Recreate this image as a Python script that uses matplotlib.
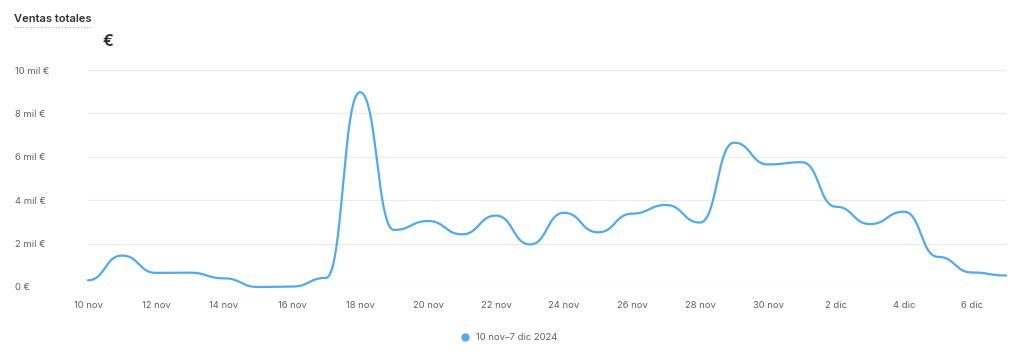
import matplotlib.pyplot as plt
import numpy as np

plt.rcParams['font.family'] = ['Inter', 'DejaVu Sans']

# ventas diarias en miles de euros, 10 nov -> 7 dic 2024
dias = ["10 nov", "11 nov", "12 nov", "13 nov", "14 nov", "15 nov", "16 nov",
        "17 nov", "18 nov", "19 nov", "20 nov", "21 nov", "22 nov", "23 nov",
        "24 nov", "25 nov", "26 nov", "27 nov", "28 nov", "29 nov", "30 nov",
        "1 dic", "2 dic", "3 dic", "4 dic", "5 dic", "6 dic", "7 dic"]
ventas = [0.31, 1.45, 0.65, 0.66, 0.40, 0.0, 0.02,
          0.42, 8.98, 2.63, 3.04, 2.43, 3.29, 1.96,
          3.42, 2.52, 3.38, 3.78, 2.97, 6.65, 5.65,
          5.75, 3.70, 2.90, 3.47, 1.39, 0.67, 0.53]
yticks = [0, 2, 4, 6, 8, 10]
ytick_labels = ["0 €", "2 mil €", "4 mil €", "6 mil €", "8 mil €", "10 mil €"]
leyenda = "10 nov–7 dic 2024"

azul = "#52aaea"
gris = "#616161"

def bump(y, n=40):
    # curva tipo d3.curveBumpX: tangente horizontal en cada punto
    u = np.linspace(0, 1, n, endpoint=False)
    xs, ys = [], []
    for i in range(len(y) - 1):
        # bezier con controles (i+0.5, y0) y (i+0.5, y1)
        bx = (1 - u)**3 * i + 3 * (1 - u)**2 * u * (i + 0.5) + 3 * (1 - u) * u**2 * (i + 0.5) + u**3 * (i + 1)
        by = (1 - u)**3 * y[i] + 3 * (1 - u)**2 * u * y[i] + 3 * (1 - u) * u**2 * y[i + 1] + u**3 * y[i + 1]
        xs += list(bx)
        ys += list(by)
    xs.append(len(y) - 1)
    ys.append(y[-1])
    return np.array(xs), np.array(ys)

fig = plt.figure(figsize=(10.24, 3.6), dpi=100)
ax = fig.add_axes([88 / 1024, 1 - 287 / 360, (1006 - 88) / 1024, (287 - 70) / 360])

x = np.arange(len(ventas))
cx, cy = bump(ventas)
ax.plot(cx, cy, color=azul, lw=1.6, solid_capstyle="round", clip_on=False)

ax.set_xlim(0, len(ventas) - 1)
ax.set_ylim(0, 10)
ax.set_yticks(yticks)
ax.set_yticklabels(ytick_labels)
ax.set_xticks(x[::2])
ax.set_xticklabels(dias[::2])
ax.grid(axis="y", color="#ebebeb", lw=0.9)
ax.set_axisbelow(True)
for sp in ax.spines.values():
    sp.set_visible(False)
ax.tick_params(axis="y", length=0, pad=52.5, labelsize=6.8, labelcolor=gris)
ax.tick_params(axis="x", length=0, pad=10, labelsize=6.8, labelcolor=gris)
for lab in ax.get_yticklabels():
    lab.set_ha("left")

# titulo y simbolo de moneda
fig.text(14 / 1024, 1 - 19 / 360, "Ventas totales", fontsize=8, fontweight="semibold",
         color="#303030", va="center", ha="left")
fig.add_artist(plt.Line2D([14 / 1024, 92 / 1024], [1 - 27 / 360, 1 - 27 / 360],
                          color="#b5b5b5", lw=0.8, ls=(0, (1, 1.5))))
fig.text(103 / 1024, 1 - 42 / 360, "€", fontsize=11.5, fontweight="bold",
         color="#303030", va="center", ha="left")

# leyenda
fig.add_artist(plt.Line2D([465 / 1024], [1 - 337 / 360], marker="o", ms=5,
                          color=azul, lw=0))
fig.text(476 / 1024, 1 - 337 / 360, leyenda, fontsize=6.8, color=gris,
         va="center", ha="left")

fig.savefig("out.png", dpi=100, facecolor="white")
